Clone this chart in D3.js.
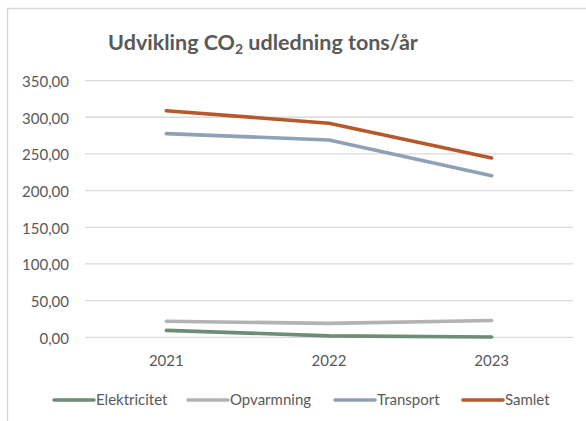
<!DOCTYPE html>
<meta charset="utf-8">
<head><title>Udvikling CO2 udledning</title>
<style>
body { margin: 0; background: #fff; }
text { font-family: Lato, "Liberation Sans", sans-serif; fill: #595959; }
.grid line { stroke: #d9d9d9; stroke-width: 1.3px; }
</style>
</head>
<body>
<svg width="586" height="421"></svg>
<script src="https://cdnjs.cloudflare.com/ajax/libs/d3/7.8.5/d3.min.js"></script>
<script>

// data
var years = ["2021", "2022", "2023"];
var elektricitet = [9.5, 2.0, 0.4];
var opvarmning = [21.8, 19.0, 23.0];
var transport = [277.7, 269.0, 220.4];
var samlet = [309.0, 291.8, 244.5];
var yTicks = [0, 50, 100, 150, 200, 250, 300, 350];

var seriesNames = ["Elektricitet", "Opvarmning", "Transport", "Samlet"];
var seriesValues = [elektricitet, opvarmning, transport, samlet];
var colours = ["#6e8c78", "#b3b3b3", "#8fa1b4", "#b7582b"];

var svg = d3.select("svg");

// chart frame (only left and top edge show in the picture)
svg.append("path")
    .attr("d", "M7.5,421 V8.5 H586")
    .attr("fill", "none")
    .attr("stroke", "#d9d9d9")
    .attr("stroke-width", 1.5);

var x = d3.scaleBand().domain(years).range([85, 573]);
var y = d3.scaleLinear().domain([0, 350]).range([337.3, 80.6]);

//gridlines
svg.append("g")
    .attr("class", "grid")
    .selectAll("line")
    .data(yTicks)
    .enter().append("line")
      .attr("x1", 85).attr("x2", 573)
      .attr("y1", function(d) { return y(d); })
      .attr("y2", function(d) { return y(d); });

//y labels
var fmt = function(d) { return d3.format(".2f")(d).replace(".", ","); };
svg.append("g")
    .selectAll("text")
    .data(yTicks)
    .enter().append("text")
      .attr("x", 69)
      .attr("y", function(d) { return y(d) + 6.3; })
      .attr("text-anchor", "end")
      .style("font-size", "15px")
      .text(fmt);

//x labels
svg.append("g")
    .selectAll("text")
    .data(years)
    .enter().append("text")
      .attr("x", function(d) { return x(d) + x.bandwidth() / 2; })
      .attr("y", 365.5)
      .attr("text-anchor", "middle")
      .style("font-size", "15px")
      .text(function(d) { return d; });

//lines
var line = d3.line()
    .x(function(d, i) { return x(years[i]) + x.bandwidth() / 2; })
    .y(function(d) { return y(d); });

svg.append("g")
    .selectAll("path")
    .data(seriesValues)
    .enter().append("path")
      .attr("d", line)
      .attr("fill", "none")
      .attr("stroke", function(d, i) { return colours[i]; })
      .attr("stroke-width", 3.6)
      .attr("stroke-linecap", "round")
      .attr("stroke-linejoin", "round");

//title
var title = svg.append("text")
    .attr("x", 263)
    .attr("y", 50)
    .attr("text-anchor", "middle")
    .style("font-size", "21.5px")
    .style("font-weight", "bold");
title.append("tspan").text("Udvikling CO");
title.append("tspan").attr("dy", 4).style("font-size", "14px").text("2");
title.append("tspan").attr("dy", -4).text(" udledning tons/år");

//legend
var legendX = [53, 187, 334, 462];
var lg = svg.append("g")
    .selectAll("g")
    .data(seriesNames)
    .enter().append("g")
      .attr("transform", function(d, i) { return "translate(" + legendX[i] + ",400)"; });
lg.append("line")
    .attr("x1", 1).attr("x2", 41)
    .attr("stroke", function(d, i) { return colours[i]; })
    .attr("stroke-width", 3.6)
    .attr("stroke-linecap", "round");
lg.append("text")
    .attr("x", 43)
    .attr("y", 5)
    .style("font-size", "15px")
    .text(function(d) { return d; });

</script>
</body>
